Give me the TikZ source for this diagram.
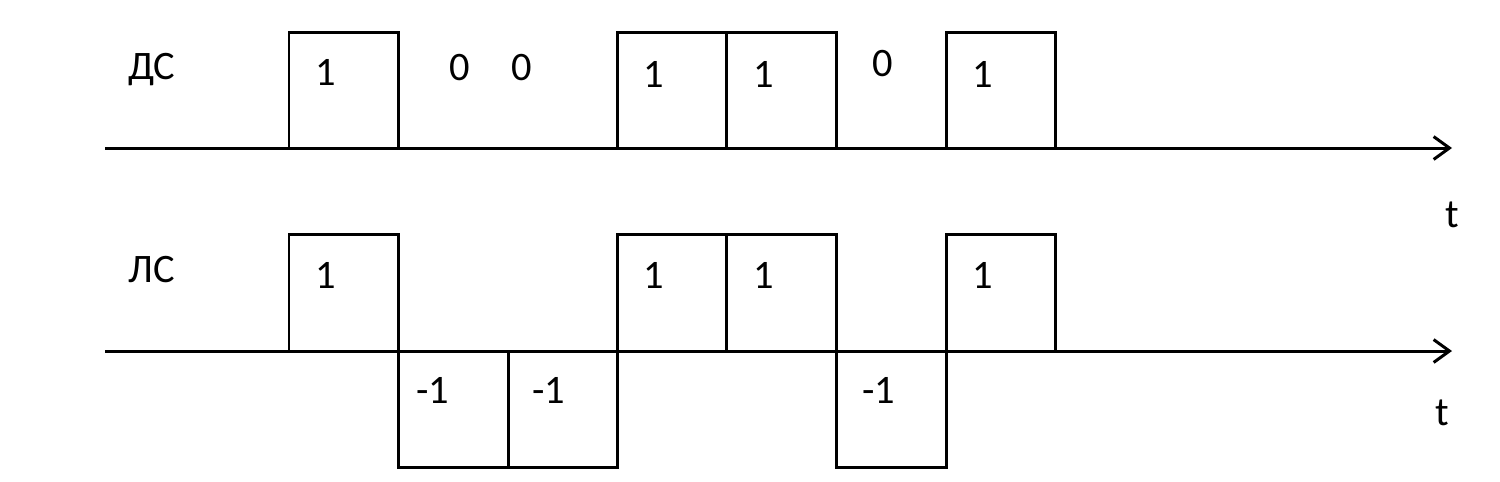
\documentclass[tikz,border=0pt]{standalone}
\usepackage{fontspec}
\setmainfont{Carlito}
\usetikzlibrary{arrows.meta}
\begin{document}
\begin{tikzpicture}[x=0.01cm,y=-0.01cm,
  wave/.style={line width=0.85pt,line join=miter},
  axisline/.style={line width=0.85pt,-{Straight Barb[length=4.5pt,width=6.5pt,line width=0.85pt]}},
  lbl/.style={font=\fontsize{11.5}{13}\selectfont,inner sep=0pt}]
\useasboundingbox (0,0) rectangle (1500,481);
% top signal
\draw[axisline] (105,148) -- (1452,148);
\draw[wave] (289,148) -- (289,32) -- (398,32) -- (398,148);
\draw[wave] (617,148) -- (617,32) -- (836,32) -- (836,148);
\draw[wave] (726,32) -- (726,148);
\draw[wave] (946,148) -- (946,32) -- (1055,32) -- (1055,148);
% bottom signal
\draw[axisline] (105,351) -- (1452,351);
\draw[wave] (289,351) -- (289,234) -- (398,234) -- (398,467) -- (617,467) -- (617,234) -- (836,234) -- (836,467) -- (946,467) -- (946,234) -- (1055,234) -- (1055,351);
\draw[wave] (508,351) -- (508,467);
\draw[wave] (726,234) -- (726,351);
% labels
\node[lbl] (ds) at (152,70) {ДС};
\node[lbl] (ls) at (152,270) {ЛС};
\node[lbl] (a1) at (326,72) {1};
\node[lbl] (a2) at (460,68) {0};
\node[lbl] (a3) at (522,68) {0};
\node[lbl] (a4) at (654,74) {1};
\node[lbl] (a5) at (764,74) {1};
\node[lbl] (a6) at (883,64) {0};
\node[lbl] (a7) at (983,74) {1};
\node[lbl] (b1) at (326,275) {1};
\node[lbl] (b2) at (433,390) {-1};
\node[lbl] (b3) at (549,390) {-1};
\node[lbl] (b4) at (654,275) {1};
\node[lbl] (b5) at (764,275) {1};
\node[lbl] (b6) at (879,390) {-1};
\node[lbl] (b7) at (983,275) {1};
\node[lbl] (t1) at (1452,215) {t};
\node[lbl] (t2) at (1442,413) {t};
\end{tikzpicture}
\end{document}
